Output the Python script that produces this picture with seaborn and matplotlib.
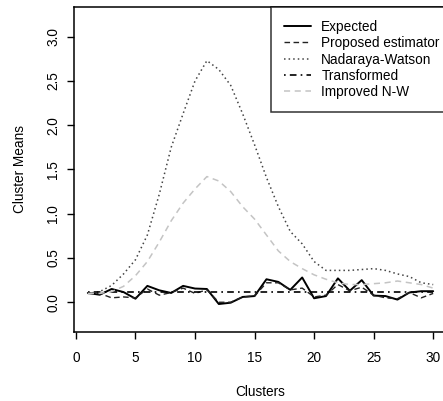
import matplotlib
matplotlib.use("Agg")
import matplotlib.pyplot as plt
import seaborn as sns
import pandas as pd

clusters = list(range(1, 31))

expected = [0.105, 0.085, 0.15, 0.115, 0.04, 0.185, 0.135, 0.105, 0.185, 0.155,
            0.15, -0.02, -0.005, 0.06, 0.07, 0.26, 0.23, 0.14, 0.28, 0.045,
            0.07, 0.27, 0.13, 0.25, 0.075, 0.07, 0.03, 0.11, 0.125, 0.125]

proposed = [0.10, 0.10, 0.05, 0.06, 0.05, 0.15, 0.08, 0.11, 0.16, 0.10,
            0.14, 0.00, 0.00, 0.06, 0.07, 0.22, 0.22, 0.14, 0.16, 0.06,
            0.08, 0.20, 0.13, 0.17, 0.08, 0.05, 0.04, 0.11, 0.05, 0.10]

nadaraya_watson = [0.10, 0.12, 0.19, 0.32, 0.48, 0.76, 1.22, 1.75, 2.13, 2.50,
                   2.73, 2.63, 2.45, 2.13, 1.78, 1.41, 1.08, 0.80, 0.66, 0.46,
                   0.36, 0.36, 0.36, 0.37, 0.38, 0.36, 0.32, 0.29, 0.22, 0.20]

transformed = [0.12, 0.12, 0.12, 0.12, 0.12, 0.12, 0.12, 0.12, 0.12, 0.12,
               0.12, 0.12, 0.12, 0.12, 0.12, 0.12, 0.12, 0.12, 0.12, 0.12,
               0.12, 0.12, 0.12, 0.12, 0.12, 0.12, 0.12, 0.12, 0.12, 0.12]

improved_nw = [0.10, 0.10, 0.12, 0.18, 0.30, 0.46, 0.68, 0.92, 1.12, 1.28,
               1.42, 1.37, 1.25, 1.08, 0.94, 0.76, 0.58, 0.46, 0.38, 0.31,
               0.26, 0.22, 0.20, 0.20, 0.21, 0.22, 0.24, 0.22, 0.20, 0.16]

series_names = ["Expected", "Proposed estimator", "Nadaraya-Watson",
                "Transformed", "Improved N-W"]
series_values = [expected, proposed, nadaraya_watson, transformed, improved_nw]

x_ticks = [0, 5, 10, 15, 20, 25, 30]
y_ticks = [0.0, 0.5, 1.0, 1.5, 2.0, 2.5, 3.0]

styles = {
    "Expected": dict(color="black", lw=1.4, ls="-"),
    "Proposed estimator": dict(color="#222222", lw=1.0, ls=(0, (4, 2.5))),
    "Nadaraya-Watson": dict(color="#444444", lw=1.1, ls=(0, (1, 2))),
    "Transformed": dict(color="black", lw=1.2, ls=(0, (1, 2.5, 4, 2.5))),
    "Improved N-W": dict(color="#c4c4c4", lw=1.1, ls=(0, (4, 3))),
}

frames = []
for name, vals in zip(series_names, series_values):
    frames.append(pd.DataFrame({"Clusters": clusters, "Cluster Means": vals, "series": name}))
df = pd.concat(frames, ignore_index=True)

sns.set_theme(style="white")
plt.rcParams["font.family"] = ["Liberation Sans", "DejaVu Sans"]
plt.rcParams["text.color"] = "black"
plt.rcParams["axes.labelcolor"] = "black"
plt.rcParams["xtick.color"] = "black"
plt.rcParams["ytick.color"] = "black"

fig = plt.figure(figsize=(4.43, 4.01), dpi=100)
W, H = 443, 401
left, right, top, bottom = 74, 447, 7, 332
ax = fig.add_axes([left / W, 1 - bottom / H, (right - left) / W, (bottom - top) / H])

for name in series_names:
    st = styles[name]
    sns.lineplot(data=df[df["series"] == name], x="Clusters", y="Cluster Means",
                 ax=ax, color=st["color"], linewidth=st["lw"], linestyle=st["ls"],
                 label=name, legend=False)

ax.set_xlim(-0.16, 31.16)
ax.set_ylim(-0.336, 3.336)
ax.set_xticks(x_ticks)
ax.set_xticklabels([str(t) for t in x_ticks], fontsize=9.8)
ax.set_yticks(y_ticks)
ax.set_yticklabels([f"{t:.1f}" for t in y_ticks], fontsize=9.8, rotation=90, va="center")
ax.tick_params(axis="both", direction="out", length=5, width=1.0, color="black",
               bottom=True, left=True)
ax.tick_params(axis="x", pad=9)
ax.tick_params(axis="y", pad=5)
for sp in ax.spines.values():
    sp.set_color("black")
    sp.set_linewidth(1.1)
    sp.set_visible(True)

ax.set_xlabel("Clusters", fontsize=9.8, labelpad=14)
ax.set_ylabel("Cluster Means", fontsize=9.8, labelpad=14)

handles, labels = ax.get_legend_handles_labels()
leg = ax.legend(handles, labels, loc="upper left",
                bbox_to_anchor=((271 - left) / (right - left), 1.0),
                frameon=True, fancybox=False, edgecolor="black", fontsize=9.8,
                handlelength=2.0, handletextpad=0.75, borderpad=0.95,
                labelspacing=0.17, borderaxespad=0)
leg.get_frame().set_linewidth(1.1)

fig.savefig("out.png", dpi=100, facecolor="white")
